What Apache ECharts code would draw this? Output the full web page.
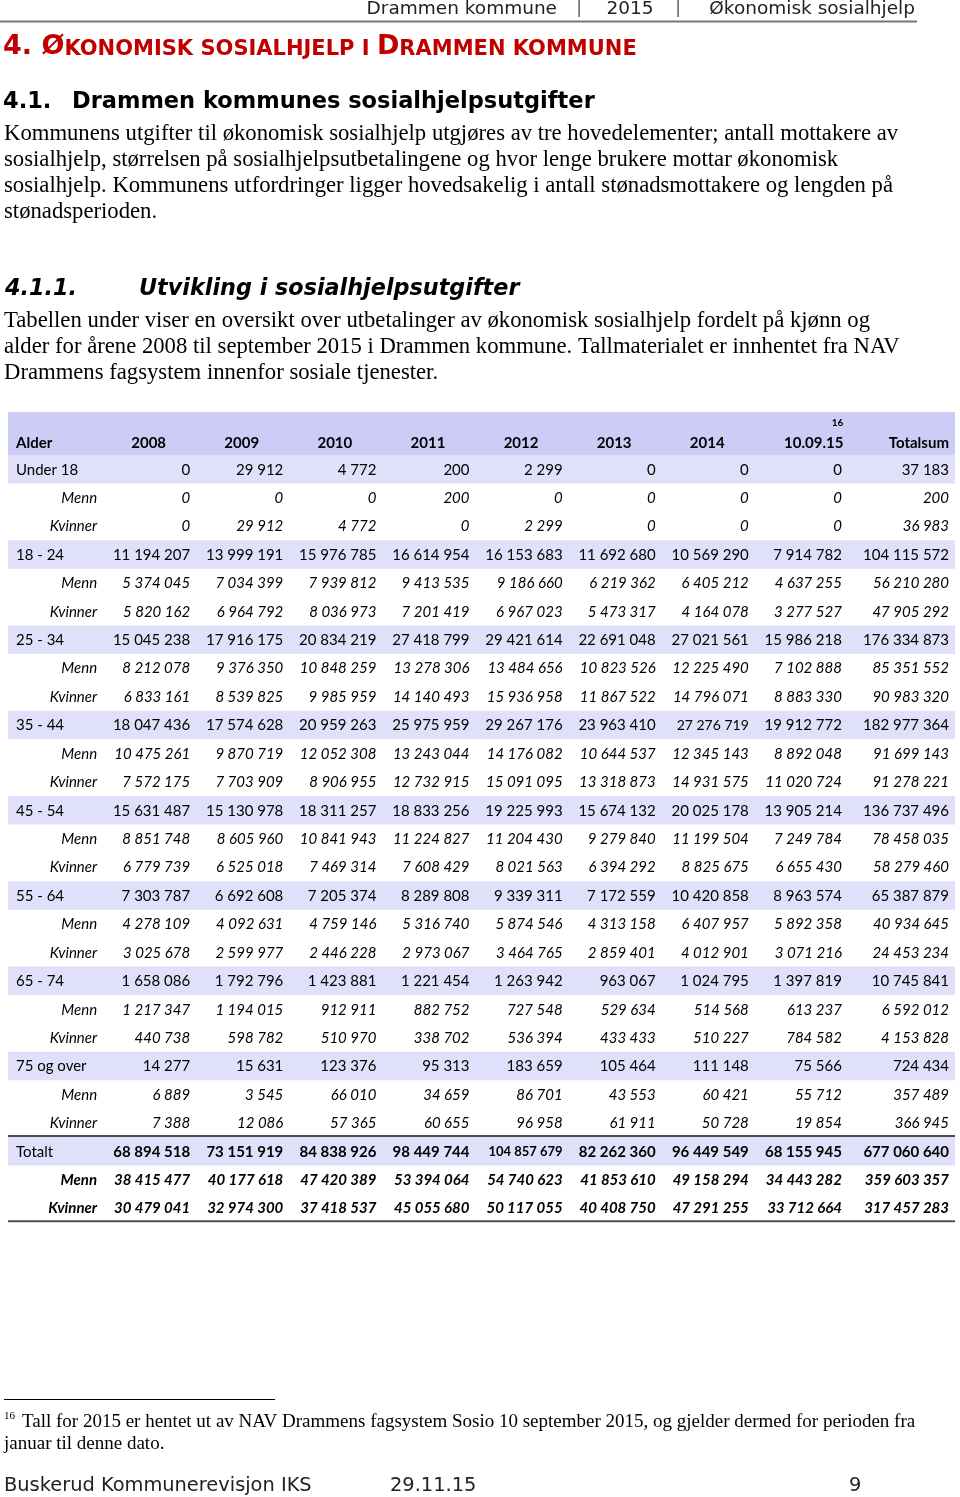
<!DOCTYPE html>
<html>
<head>
<meta charset="utf-8">
<script src="https://cdn.jsdelivr.net/npm/echarts@6/dist/echarts.min.js"></script>
<style>
  html, body { margin: 0; padding: 0; background: #fff; }
  #main { width: 960px; height: 1497px; }
</style>
</head>
<body>
<div id="main"></div>
<script>
/* ── Data ── */
const headers = ['Alder', '2008', '2009', '2010', '2011', '2012', '2013', '2014', '10.09.15', 'Totalsum']
const groupLabels = ['Under 18', '18 - 24', '25 - 34', '35 - 44', '45 - 54', '55 - 64', '65 - 74', '75 og over', 'Totalt']
const subLabels = ['Menn', 'Kvinner']

// each group: [total, menn, kvinner], columns 2008 .. 10.09.15, Totalsum
const under18 = [
  [0, 29912, 4772, 200, 2299, 0, 0, 0, 37183],
  [0, 0, 0, 200, 0, 0, 0, 0, 200],
  [0, 29912, 4772, 0, 2299, 0, 0, 0, 36983],
]
const age18to24 = [
  [11194207, 13999191, 15976785, 16614954, 16153683, 11692680, 10569290, 7914782, 104115572],
  [5374045, 7034399, 7939812, 9413535, 9186660, 6219362, 6405212, 4637255, 56210280],
  [5820162, 6964792, 8036973, 7201419, 6967023, 5473317, 4164078, 3277527, 47905292],
]
const age25to34 = [
  [15045238, 17916175, 20834219, 27418799, 29421614, 22691048, 27021561, 15986218, 176334873],
  [8212078, 9376350, 10848259, 13278306, 13484656, 10823526, 12225490, 7102888, 85351552],
  [6833161, 8539825, 9985959, 14140493, 15936958, 11867522, 14796071, 8883330, 90983320],
]
const age35to44 = [
  [18047436, 17574628, 20959263, 25975959, 29267176, 23963410, 27276719, 19912772, 182977364],
  [10475261, 9870719, 12052308, 13243044, 14176082, 10644537, 12345143, 8892048, 91699143],
  [7572175, 7703909, 8906955, 12732915, 15091095, 13318873, 14931575, 11020724, 91278221],
]
const age45to54 = [
  [15631487, 15130978, 18311257, 18833256, 19225993, 15674132, 20025178, 13905214, 136737496],
  [8851748, 8605960, 10841943, 11224827, 11204430, 9279840, 11199504, 7249784, 78458035],
  [6779739, 6525018, 7469314, 7608429, 8021563, 6394292, 8825675, 6655430, 58279460],
]
const age55to64 = [
  [7303787, 6692608, 7205374, 8289808, 9339311, 7172559, 10420858, 8963574, 65387879],
  [4278109, 4092631, 4759146, 5316740, 5874546, 4313158, 6407957, 5892358, 40934645],
  [3025678, 2599977, 2446228, 2973067, 3464765, 2859401, 4012901, 3071216, 24453234],
]
const age65to74 = [
  [1658086, 1792796, 1423881, 1221454, 1263942, 963067, 1024795, 1397819, 10745841],
  [1217347, 1194015, 912911, 882752, 727548, 529634, 514568, 613237, 6592012],
  [440738, 598782, 510970, 338702, 536394, 433433, 510227, 784582, 4153828],
]
const age75plus = [
  [14277, 15631, 123376, 95313, 183659, 105464, 111148, 75566, 724434],
  [6889, 3545, 66010, 34659, 86701, 43553, 60421, 55712, 357489],
  [7388, 12086, 57365, 60655, 96958, 61911, 50728, 19854, 366945],
]
const totalt = [
  [68894518, 73151919, 84838926, 98449744, 104857679, 82262360, 96449549, 68155945, 677060640],
  [38415477, 40177618, 47420389, 53394064, 54740623, 41853610, 49158294, 34443282, 359603357],
  [30479041, 32974300, 37418537, 45055680, 50117055, 40408750, 47291255, 33712664, 317457283],
]
const groups = [under18, age18to24, age25to34, age35to44, age45to54, age55to64, age65to74, age75plus, totalt]

/* ── Layout / style ── */
const ROW_H = 28.42
const GRID_TOP = 455
const GRID_LEFT = 9
const COL_W = 93.1
const LAST_COL_SHIFT = 14
const HEADER_BAND_H = 43
const BAND_HEADER = '#ccccf6'
const BAND_GROUP = '#e0e0fa'
const TXT = '#000'
const TABLE_FONT = 'Lato, "Open Sans", sans-serif'
// cells squeezed to a smaller size in the original
const smallCells = { 'Totalt|5': 13, '35 - 44|7': 14 }

function fmt(n) {
  return String(n).replace(/\B(?=(\d{3})+(?!\d))/g, ' ')
}

/* build rows + cells */
const rowLabels = []
const cells = []
const groupRows = []
groups.forEach((g, gi) => {
  const isTotal = gi === groups.length - 1
  const rowIdx = rowLabels.length
  groupRows.push(rowIdx)
  rowLabels.push(groupLabels[gi])
  cells.push({ col: 0, row: rowIdx, text: groupLabels[gi], kind: 'glabel' })
  g[0].forEach((v, i) => {
    const size = smallCells[groupLabels[gi] + '|' + (i + 1)]
    cells.push({ col: i + 1, row: rowIdx, text: fmt(v), kind: isTotal ? 'tot' : 'grp', size })
  })
  subLabels.forEach((s, si) => {
    const r = rowLabels.length
    rowLabels.push(s)
    cells.push({ col: 0, row: r, text: s, kind: isTotal ? 'totsub' : 'sub' })
    g[si + 1].forEach((v, i) => {
      cells.push({ col: i + 1, row: r, text: fmt(v), kind: isTotal ? 'totsub' : 'sub' })
    })
  })
})

function cellFont(c) {
  let size = c.size || 15
  let style = 'normal'
  let weight = 'normal'
  if (c.kind === 'sub') style = 'italic'
  if (c.kind === 'tot') weight = 'bold'
  if (c.kind === 'totsub') { style = 'italic'; weight = 'bold' }
  return style + ' ' + weight + ' ' + size + 'px ' + TABLE_FONT
}

function renderCell(params, api) {
  const c = cells[params.dataIndex]
  const p = api.coord([api.value(0), api.value(1)])
  const s = api.size([1, 1])
  let x, align
  if (c.kind === 'glabel') {
    x = p[0] - s[0] / 2 + 7
    align = 'left'
  } else {
    x = p[0] + s[0] / 2 - 5
    align = 'right'
    if (c.col === headers.length - 1) x += LAST_COL_SHIFT
  }
  return {
    type: 'text',
    x: x,
    y: p[1] + 0.5,
    style: { text: c.text, align: align, verticalAlign: 'middle', font: cellFont(c), fill: TXT },
  }
}

function renderBand(params, api) {
  const cs = params.coordSys
  const p = api.coord([0, api.value(0)])
  const s = api.size([1, 1])
  const x0 = cs.x - 1
  const w = cs.width + LAST_COL_SHIFT + 2
  const children = [{
    type: 'rect',
    shape: { x: x0, y: p[1] - s[1] / 2, width: w, height: s[1] },
    style: { fill: BAND_GROUP },
  }]
  if (params.dataIndex === 0) {
    children.push({
      type: 'rect',
      shape: { x: x0, y: cs.y - HEADER_BAND_H, width: w, height: HEADER_BAND_H },
      style: { fill: BAND_HEADER },
    })
  }
  if (params.dataIndex === groupRows.length - 1) {
    const top = p[1] - s[1] / 2
    const bottom = cs.y + cs.height
    children.push({ type: 'line', shape: { x1: x0, y1: top - 1, x2: x0 + w, y2: top - 1 }, style: { stroke: '#4d4d4d', lineWidth: 2 } })
    children.push({ type: 'line', shape: { x1: x0, y1: bottom - 1, x2: x0 + w, y2: bottom - 1 }, style: { stroke: '#4d4d4d', lineWidth: 2 } })
  }
  return { type: 'group', children }
}

const serif = '"Liberation Serif", "Times New Roman", serif'
const sans = '"DejaVu Sans", sans-serif'

function txt(x, y, text, font, extra) {
  return {
    type: 'text', x: x, y: y, z: 10,
    style: Object.assign({ text: text, font: font, fill: '#000', verticalAlign: 'middle' }, extra || {}),
  }
}

const bodyFont = '22.7px ' + serif
const graphics = [
  // running header
  txt(557, 9, 'Drammen kommune', '18.5px ' + sans, { align: 'right', fill: '#222' }),
  txt(579, 9, '|', '17px ' + sans, { align: 'center', fill: '#555' }),
  txt(630, 9, '2015', '18.5px ' + sans, { align: 'center', fill: '#222' }),
  txt(678, 9, '|', '17px ' + sans, { align: 'center', fill: '#555' }),
  txt(915, 9, 'Økonomisk sosialhjelp', '18.5px ' + sans, { align: 'right', fill: '#222' }),
  { type: 'line', z: 10, shape: { x1: 0, y1: 21.5, x2: 917, y2: 21.5 }, style: { stroke: '#777', lineWidth: 2 } },
  // chapter heading
  {
    type: 'text', x: 3, y: 60, z: 10,
    style: {
      text: '{b|4. Ø}{s|KONOMISK SOSIALHJELP I }{b|D}{s|RAMMEN KOMMUNE}',
      verticalAlign: 'bottom',
      rich: {
        b: { font: 'bold 27px ' + sans, fill: '#c00000', verticalAlign: 'bottom' },
        s: { font: 'bold 21px ' + sans, fill: '#c00000', verticalAlign: 'bottom' },
      },
    },
  },
  txt(3, 102, '4.1.', 'bold 22.5px ' + sans),
  txt(72, 102, 'Drammen kommunes sosialhjelpsutgifter', 'bold 22.5px ' + sans),
  txt(4, 134, 'Kommunens utgifter til økonomisk sosialhjelp utgjøres av tre hovedelementer; antall mottakere av', bodyFont),
  txt(4, 160, 'sosialhjelp, størrelsen på sosialhjelpsutbetalingene og hvor lenge brukere mottar økonomisk', bodyFont),
  txt(4, 186, 'sosialhjelp. Kommunens utfordringer ligger hovedsakelig i antall stønadsmottakere og lengden på', bodyFont),
  txt(4, 212, 'stønadsperioden.', bodyFont),
  txt(5, 289, '4.1.1.', 'italic bold 22.3px ' + sans),
  txt(139, 289, 'Utvikling i sosialhjelpsutgifter', 'italic bold 22.3px ' + sans),
  txt(4, 321, 'Tabellen under viser en oversikt over utbetalinger av økonomisk sosialhjelp fordelt på kjønn og', bodyFont),
  txt(4, 347, 'alder for årene 2008 til september 2015 i Drammen kommune. Tallmaterialet er innhentet fra NAV', bodyFont),
  txt(4, 373, 'Drammens fagsystem innenfor sosiale tjenester.', bodyFont),
  // footnote
  { type: 'line', z: 10, shape: { x1: 4, y1: 1399.5, x2: 275, y2: 1399.5 }, style: { stroke: '#000', lineWidth: 1 } },
  txt(4, 1416, '16', '11px ' + serif),
  txt(22, 1422, 'Tall for 2015 er hentet ut av NAV Drammens fagsystem Sosio 10 september 2015, og gjelder dermed for perioden fra', '19px ' + serif),
  txt(4, 1444, 'januar til denne dato.', '19px ' + serif),
  // footer
  txt(4, 1486, 'Buskerud Kommunerevisjon IKS', '19.4px ' + sans, { fill: '#222' }),
  txt(390, 1486, '29.11.15', '19.4px ' + sans, { fill: '#222' }),
  txt(849, 1486, '9', '19.4px ' + sans, { fill: '#222' }),
]

const hdr = { fontSize: 15, fontWeight: 'bold', fontFamily: TABLE_FONT, color: TXT, lineHeight: 20 }

const chart = echarts.init(document.getElementById('main'), null, { renderer: 'canvas' })
chart.setOption({
  animation: false,
  backgroundColor: '#fff',
  grid: { left: GRID_LEFT, top: GRID_TOP, width: COL_W * headers.length, height: ROW_H * rowLabels.length },
  xAxis: {
    type: 'category',
    position: 'top',
    z: 10,
    data: headers,
    axisLine: { show: false },
    axisTick: { show: false },
    splitLine: { show: false },
    axisLabel: {
      interval: 0,
      margin: 2,
      formatter: (v, i) => {
        if (i === 0) return '{l|' + v + '}'
        if (i === headers.length - 1) return '{r|' + v + '}'
        if (v === '10.09.15') return '{sup|16}\n{w|' + v + '}'
        return '{c|' + v + '}'
      },
      rich: {
        l: Object.assign({}, hdr, { width: 79, align: 'left' }),
        r: Object.assign({}, hdr, { width: 111, align: 'right' }),
        c: Object.assign({}, hdr),
        w: Object.assign({}, hdr, { width: 86, align: 'right' }),
        sup: Object.assign({}, hdr, { fontSize: 10, width: 86, align: 'right' }),
      },
    },
  },
  yAxis: {
    type: 'category',
    data: rowLabels,
    inverse: true,
    show: false,
  },
  graphic: graphics,
  series: [
    {
      type: 'custom',
      name: 'bands',
      z: 1,
      silent: true,
      renderItem: renderBand,
      data: groupRows.map(r => [r]),
      encode: { y: 0 },
    },
    {
      type: 'custom',
      name: 'cells',
      z: 3,
      silent: true,
      renderItem: renderCell,
      data: cells.map(c => [c.col, c.row]),
      encode: { x: 0, y: 1 },
    },
  ],
})
</script>
</body>
</html>
